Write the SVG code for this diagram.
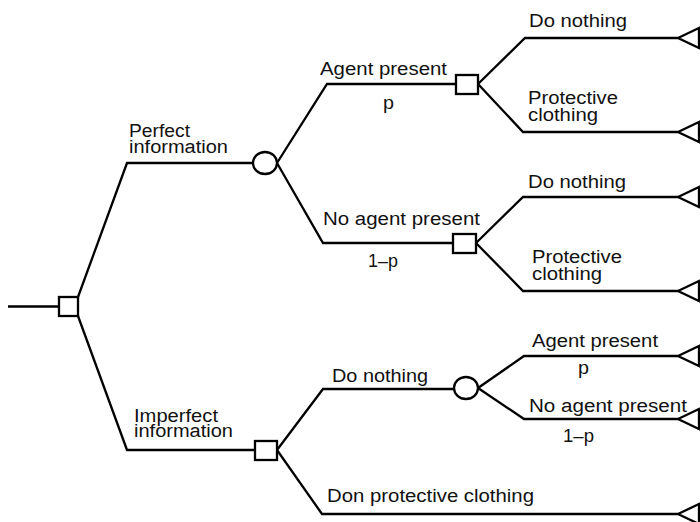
<svg xmlns="http://www.w3.org/2000/svg" width="700" height="522" viewBox="0 0 700 522">
  <style>
    .ln { fill: none; stroke: #000; stroke-width: 2.3; stroke-linejoin: miter; }
    .nd { fill: #fff; stroke: #000; stroke-width: 2.3; }
    text { font-family: "Liberation Sans", Arial, Helvetica, sans-serif; font-size: 18px; fill: #111; }
  </style>
  <rect width="700" height="522" fill="#fff"/>

  <!-- branches -->
  <g id="connectors">
    <path class="ln" d="M8,306.5 H59"/>
    <path class="ln" d="M78,297 L127,163 H253"/>
    <path class="ln" d="M78,316 L127,450 H255"/>
    <path class="ln" d="M277,163 L327,84 H456"/>
    <path class="ln" d="M277,163 L323,243 H453"/>
    <path class="ln" d="M478,84 L525,38 H678"/>
    <path class="ln" d="M478,84 L523,132 H678"/>
    <path class="ln" d="M476,243 L523,197 H678"/>
    <path class="ln" d="M476,243 L523,291 H678"/>
    <path class="ln" d="M277,450 L323,389 H454"/>
    <path class="ln" d="M478,388 L524,356 H678"/>
    <path class="ln" d="M478,388 L524,419 H678"/>
    <path class="ln" d="M277,450 L322,514 H678"/>
  </g>

  <!-- decision nodes -->
  <g id="d-root"><rect class="nd" x="59" y="297" width="19" height="19"/></g>
  <g id="d-agent"><rect class="nd" x="456" y="75" width="22" height="19"/></g>
  <g id="d-noagent"><rect class="nd" x="453" y="234" width="23" height="19"/></g>
  <g id="d-imperfect"><rect class="nd" x="255" y="441" width="22" height="19"/></g>

  <!-- chance nodes -->
  <g id="c-perfect"><ellipse class="nd" cx="265" cy="163" rx="12" ry="11"/></g>
  <g id="c-donothing"><ellipse class="nd" cx="466" cy="388" rx="12" ry="11"/></g>

  <!-- terminal nodes -->
  <g id="t1"><polygon class="nd" points="678,38 699,28 699,48"/></g>
  <g id="t2"><polygon class="nd" points="678,132 699,122 699,142"/></g>
  <g id="t3"><polygon class="nd" points="678,197 699,187 699,207"/></g>
  <g id="t4"><polygon class="nd" points="678,291 699,281 699,301"/></g>
  <g id="t5"><polygon class="nd" points="678,356 699,346 699,366"/></g>
  <g id="t6"><polygon class="nd" points="678,419 699,409 699,429"/></g>
  <g id="t7"><polygon class="nd" points="678,514 699,504 699,524"/></g>

  <!-- labels -->
  <g id="labels">
    <text x="129" y="137" textLength="61" lengthAdjust="spacingAndGlyphs">Perfect</text>
    <text x="129" y="153" textLength="99" lengthAdjust="spacingAndGlyphs">information</text>
    <text x="134" y="422" textLength="84" lengthAdjust="spacingAndGlyphs">Imperfect</text>
    <text x="134" y="437" textLength="99" lengthAdjust="spacingAndGlyphs">information</text>

    <text x="320" y="75" textLength="127" lengthAdjust="spacingAndGlyphs">Agent present</text>
    <text x="383" y="109" textLength="11" lengthAdjust="spacingAndGlyphs">p</text>
    <text x="323" y="225" textLength="157" lengthAdjust="spacingAndGlyphs">No agent present</text>
    <text x="368" y="267" textLength="30" lengthAdjust="spacingAndGlyphs">1–p</text>

    <text x="529" y="27" textLength="98" lengthAdjust="spacingAndGlyphs">Do nothing</text>
    <text x="528" y="104" textLength="90" lengthAdjust="spacingAndGlyphs">Protective</text>
    <text x="528" y="121" textLength="70" lengthAdjust="spacingAndGlyphs">clothing</text>

    <text x="528" y="188" textLength="98" lengthAdjust="spacingAndGlyphs">Do nothing</text>
    <text x="532" y="263" textLength="90" lengthAdjust="spacingAndGlyphs">Protective</text>
    <text x="532" y="280" textLength="70" lengthAdjust="spacingAndGlyphs">clothing</text>

    <text x="332" y="382" textLength="96" lengthAdjust="spacingAndGlyphs">Do nothing</text>
    <text x="532" y="347" textLength="126" lengthAdjust="spacingAndGlyphs">Agent present</text>
    <text x="578" y="374" textLength="11" lengthAdjust="spacingAndGlyphs">p</text>
    <text x="529" y="412" textLength="158" lengthAdjust="spacingAndGlyphs">No agent present</text>
    <text x="563" y="442" textLength="31" lengthAdjust="spacingAndGlyphs">1–p</text>
    <text x="327" y="502" textLength="207" lengthAdjust="spacingAndGlyphs">Don protective clothing</text>
  </g>
</svg>
